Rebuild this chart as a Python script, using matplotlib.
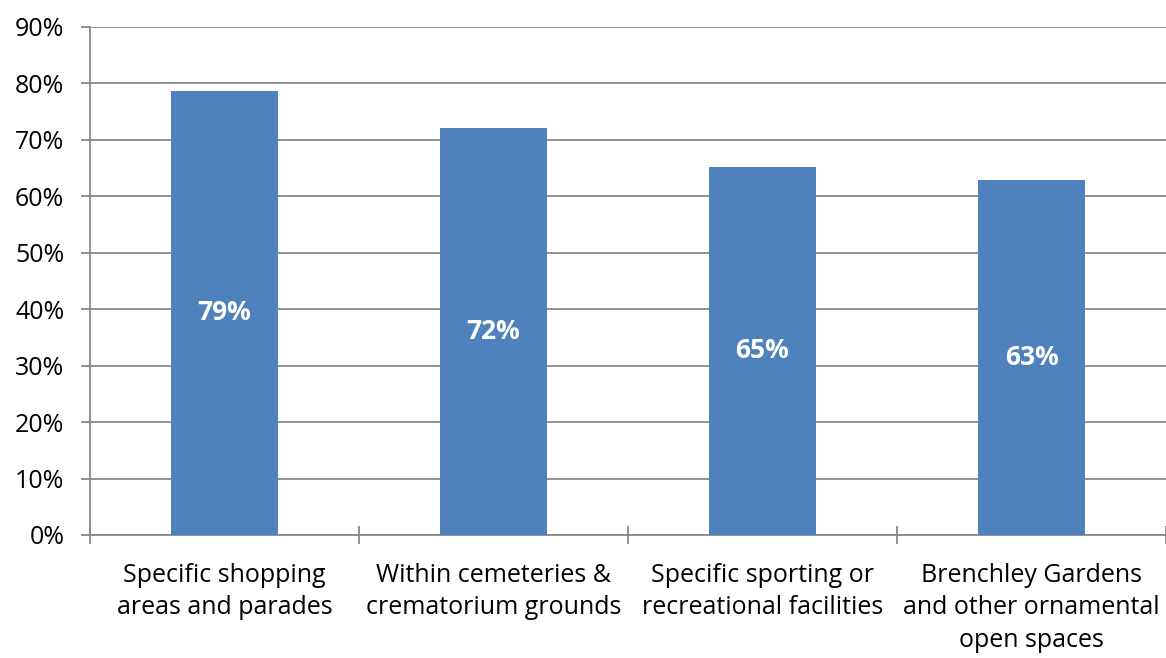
import matplotlib
matplotlib.use("Agg")
import matplotlib.pyplot as plt
from matplotlib.ticker import FixedLocator, PercentFormatter

categories = ["Specific shopping\nareas and parades",
              "Within cemeteries &\ncrematorium grounds",
              "Specific sporting or\nrecreational facilities",
              "Brenchley Gardens\nand other ornamental\nopen spaces"]
values = [78.7, 72.1, 65.2, 62.9]
labels = ["79%", "72%", "65%", "63%"]
yticks = [0, 10, 20, 30, 40, 50, 60, 70, 80, 90]

plt.rcParams['font.family'] = ['Open Sans', 'DejaVu Sans']
fig = plt.figure(figsize=(11.66, 6.58), dpi=100)
ax = fig.add_axes([90/1166, 1-535/658, 1-90/1166, (535-27)/658])

grey = '#888888'
x = list(range(len(categories)))
bars = ax.bar(x, values, width=0.4, color='#4F81BD', zorder=3)
for b, lab in zip(bars, labels):
    ax.text(b.get_x() + b.get_width()/2, b.get_height()/2, lab,
            ha='center', va='center', color='white', fontsize=19,
            fontweight='bold', zorder=4)

ax.set_xlim(-0.5, 3.5)
ax.set_ylim(0, 90)
ax.set_yticks(yticks)
ax.yaxis.set_major_formatter(PercentFormatter(decimals=0))
ax.grid(axis='y', color=grey, linewidth=1.3, zorder=0)

ax.set_xticks(x)
ax.set_xticklabels(categories, fontsize=18, linespacing=1.4)
ax.xaxis.set_minor_locator(FixedLocator([-0.5, 0.5, 1.5, 2.5, 3.5]))
ax.tick_params(axis='x', which='major', length=0, pad=20)
ax.tick_params(axis='x', which='minor', direction='inout', length=13,
               width=1.3, color=grey)
ax.tick_params(axis='y', which='major', length=6.5, width=1.3, color=grey,
               labelsize=18, pad=12)

for s in ['top', 'right']:
    ax.spines[s].set_visible(False)
for s in ['left', 'bottom']:
    ax.spines[s].set_color(grey)
    ax.spines[s].set_linewidth(1.3)

fig.savefig('out.png', dpi=100)
